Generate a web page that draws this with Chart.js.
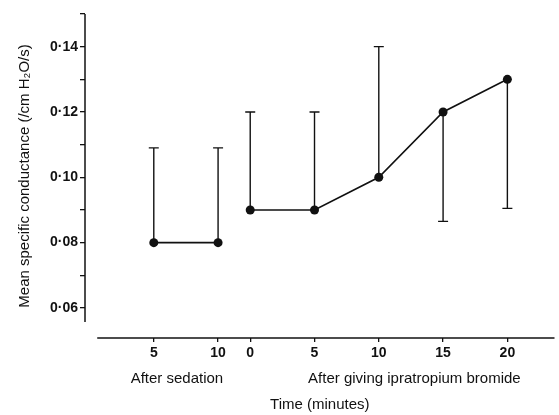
<!DOCTYPE html>
<html>
<head>
<meta charset="utf-8">
<script src="https://cdn.jsdelivr.net/npm/chart.js@4"></script>
<style>
  body { margin: 0; background: #fff; }
  #wrap { width: 559px; height: 415px; position: relative; }
</style>
</head>
<body>
<div id="wrap"><canvas id="chart"></canvas></div>
<script>
// Mean specific conductance after sedation and after ipratropium bromide
const sedationTimes = [5, 10];
const sedationMean = [0.08, 0.08];
const sedationErrEnd = [0.109, 0.109];

const ipraTimes = [0, 5, 10, 15, 20];
const ipraMean = [0.09, 0.09, 0.10, 0.12, 0.13];
const ipraErrEnd = [0.12, 0.12, 0.14, 0.0865, 0.0905];

const yTickValues = [0.06, 0.07, 0.08, 0.09, 0.10, 0.11, 0.12, 0.13, 0.14, 0.15];
const groupLabels = ['After sedation', 'After giving ipratropium bromide'];

// both groups share one x axis: sedation block, half-step gap, then ipratropium block
const STEP = 5;
const sedPos = t => (t - 5) / STEP;
const ipraPos = t => 1.5 + t / STEP;

const xTicks = [
    ...sedationTimes.map(t => ({ value: sedPos(t), label: String(t) })),
    ...ipraTimes.map(t => ({ value: ipraPos(t), label: String(t) }))
];

const INK = '#111';
const FONT = '"Liberation Sans", Arial, sans-serif';

function toPoints(times, vals, pos) {
    return times.map((t, i) => ({ x: pos(t), y: vals[i] }));
}

const errorBars = {
    id: 'errorBars',
    beforeDatasetsDraw(chart) {
        const { ctx, scales: { x, y } } = chart;
        const groups = [
            { times: sedationTimes, mean: sedationMean, end: sedationErrEnd, pos: sedPos },
            { times: ipraTimes, mean: ipraMean, end: ipraErrEnd, pos: ipraPos }
        ];
        ctx.save();
        ctx.strokeStyle = INK;
        ctx.lineWidth = 1.4;
        groups.forEach(g => {
            g.times.forEach((t, i) => {
                const px = x.getPixelForValue(g.pos(t));
                const y0 = y.getPixelForValue(g.mean[i]);
                const y1 = y.getPixelForValue(g.end[i]);
                ctx.beginPath();
                ctx.moveTo(px, y0);
                ctx.lineTo(px, y1);
                ctx.moveTo(px - 5, y1);
                ctx.lineTo(px + 5, y1);
                ctx.stroke();
            });
        });
        ctx.restore();
    }
};

const axesAndLabels = {
    id: 'axesAndLabels',
    afterDraw(chart) {
        const { ctx, chartArea, scales: { x, y } } = chart;
        ctx.save();
        ctx.strokeStyle = INK;
        ctx.lineWidth = 1.5;
        // y axis line, stops short of the x axis
        ctx.beginPath();
        ctx.moveTo(chartArea.left, chartArea.top);
        ctx.lineTo(chartArea.left, y.getPixelForValue(0.0557));
        ctx.stroke();
        // detached x axis line
        ctx.beginPath();
        ctx.moveTo(x.getPixelForValue(-0.88), chartArea.bottom);
        ctx.lineTo(chartArea.right, chartArea.bottom);
        ctx.stroke();
        // group captions under the ticks
        ctx.fillStyle = INK;
        ctx.font = '15px ' + FONT;
        ctx.textAlign = 'left';
        ctx.textBaseline = 'middle';
        ctx.fillText(groupLabels[0], x.getPixelForValue(-0.36), 379);
        ctx.fillText(groupLabels[1], x.getPixelForValue(2.4), 379);
        ctx.restore();
    }
};

new Chart(document.getElementById('chart'), {
    type: 'line',
    data: {
        datasets: [
            { data: toPoints(sedationTimes, sedationMean, sedPos) },
            { data: toPoints(ipraTimes, ipraMean, ipraPos) }
        ].map(d => ({
            ...d,
            borderColor: INK,
            backgroundColor: INK,
            borderWidth: 1.6,
            pointRadius: 4.5,
            pointBorderWidth: 0,
            pointBackgroundColor: INK,
            tension: 0
        }))
    },
    options: {
        responsive: true,
        maintainAspectRatio: false,
        animation: false,
        layout: { padding: { top: 14, right: 3, left: 0, bottom: 0 } },
        plugins: { legend: { display: false }, tooltip: { enabled: false } },
        scales: {
            x: {
                type: 'linear',
                min: -1.07,
                max: 6.233,
                border: { display: false },
                grid: { drawOnChartArea: false, drawTicks: true, tickLength: 4, color: INK, lineWidth: 1.3 },
                afterBuildTicks: s => { s.ticks = xTicks.map(t => ({ value: t.value })); },
                ticks: {
                    autoSkip: false,
                    maxRotation: 0,
                    padding: 3,
                    color: INK,
                    font: { family: FONT, size: 14, weight: 'bold' },
                    callback: (v) => {
                        const t = xTicks.find(k => Math.abs(k.value - v) < 1e-6);
                        return t ? t.label : '';
                    }
                },
                title: {
                    display: true,
                    text: 'Time (minutes)',
                    color: INK,
                    font: { family: FONT, size: 15 },
                    padding: { top: 0, bottom: 1 }
                },
                afterFit: s => { s.height = 77; }
            },
            y: {
                min: 0.0508,
                max: 0.15,
                border: { display: false },
                grid: { drawOnChartArea: false, drawTicks: true, tickLength: 5, color: INK, lineWidth: 1.3 },
                afterBuildTicks: s => { s.ticks = yTickValues.map(v => ({ value: v })); },
                ticks: {
                    padding: 2,
                    color: INK,
                    font: { family: FONT, size: 14, weight: 'bold' },
                    callback: (v) => {
                        const h = Math.round(v * 100);
                        if (h % 2 !== 0 || h > 14) return '';
                        return '0\u00b7' + String(h).padStart(2, '0');
                    }
                },
                title: {
                    display: true,
                    text: 'Mean specific conductance (/cm H\u2082O/s)',
                    color: INK,
                    font: { family: FONT, size: 15 },
                    padding: { top: 16, bottom: 0 }
                },
                afterFit: s => { s.width = 85; }
            }
        }
    },
    plugins: [errorBars, axesAndLabels]
});
</script>
</body>
</html>
